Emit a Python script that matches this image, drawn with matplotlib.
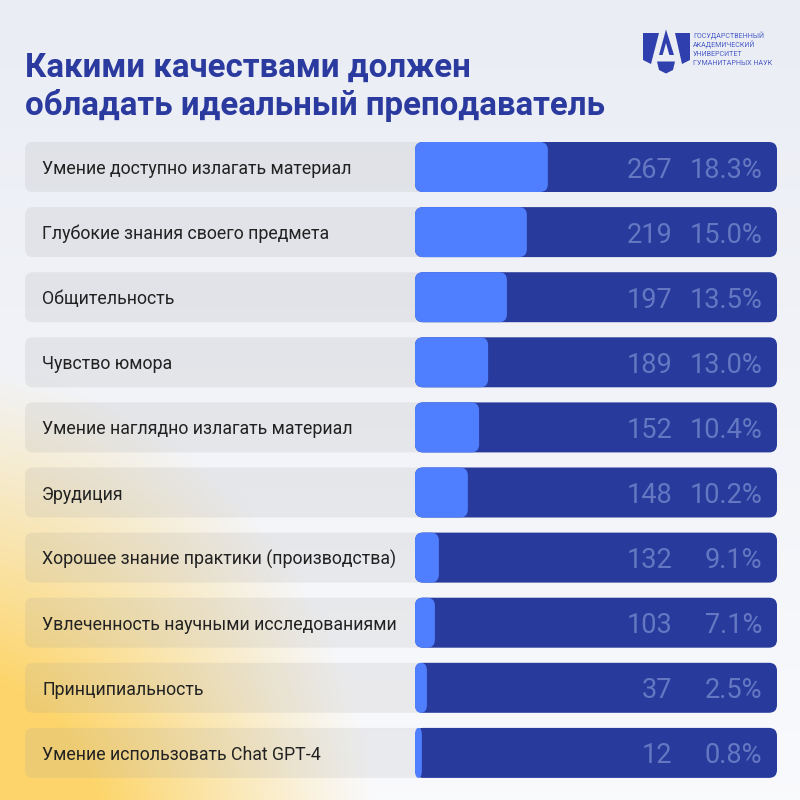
import numpy as np
import matplotlib
matplotlib.use("Agg")
import matplotlib.pyplot as plt
from matplotlib.patches import FancyBboxPatch, Polygon

plt.rcParams['font.family'] = ['Roboto', 'DejaVu Sans']

# ---------------- data ----------------
title_lines = ["Какими качествами должен", "обладать идеальный преподаватель"]
categories = [
    "Умение доступно излагать материал",
    "Глубокие знания своего предмета",
    "Общительность",
    "Чувство юмора",
    "Умение наглядно излагать материал",
    "Эрудиция",
    "Хорошее знание практики (производства)",
    "Увлеченность научными исследованиями",
    "Принципиальность",
    "Умение использовать Chat GPT-4",
]
counts = [267, 219, 197, 189, 152, 148, 132, 103, 37, 12]
percents = [18.3, 15.0, 13.5, 13.0, 10.4, 10.2, 9.1, 7.1, 2.5, 0.8]
# visible length of the light fill, in % of the track (as drawn in the original)
fill_pct = [36.7, 30.9, 25.4, 20.2, 17.7, 14.6, 6.6, 5.5, 3.3, 1.9]
logo_lines = ["ГОСУДАРСТВЕННЫЙ", "АКАДЕМИЧЕСКИЙ", "УНИВЕРСИТЕТ", "ГУМАНИТАРНЫХ НАУК"]

# ---------------- styles ----------------
TITLE_C = "#2B3A9E"
TRACK_C = "#283B9D"
FILL_C = "#4F7EFE"
NUM_C = "#6677C2"
LABEL_C = "#222222"

W = H = 800
fig = plt.figure(figsize=(8, 8), dpi=100)

# background with yellow glow bottom-left
bg = fig.add_axes([0, 0, 1, 1])
yy, xx = np.mgrid[0:H, 0:W]
top = np.array([0.918, 0.929, 0.957])
bot = np.array([0.978, 0.981, 0.992])
t = (yy / H)[..., None]
img = top * (1 - t) + bot * t
yellow = np.array([0.992, 0.835, 0.420])
d = np.sqrt(((xx + 60) / 440.0) ** 2 + ((yy - 860) / 500.0) ** 2)
g = np.clip(1 - d, 0, 1) ** 1.1
g = np.clip(g * 1.7, 0, 1)[..., None]
img = img * (1 - g) + yellow * g
bg.imshow(img, extent=[0, W, H, 0], aspect='auto', zorder=0)
bg.set_xlim(0, W)
bg.set_ylim(H, 0)
bg.axis('off')

# title
for line, base in zip(title_lines, [77, 115]):
    fig.text(25 / W, 1 - base / H, line, fontsize=23.8, fontweight='bold',
             color=TITLE_C, va='baseline', ha='left')

# logo
LOGO_C = "#2F3FAE"
for pts in [
    [(643, 33), (659, 33), (651, 64), (643, 60)],
    [(675, 33), (690, 33), (690, 60), (682, 64)],
    [(657, 61.5), (675, 61.5), (673, 70), (666, 73.5), (659, 70)],
]:
    bg.add_patch(Polygon(pts, closed=True, facecolor=LOGO_C, edgecolor='none', zorder=2))
bg.add_patch(Polygon([(666, 29.5), (659, 55), (674, 55)], closed=True, facecolor=LOGO_C,
                     edgecolor='none', zorder=2))
bg.add_patch(Polygon([(666, 43), (662.5, 55.5), (669.5, 55.5)], closed=True, facecolor="#ECEFF5",
                     edgecolor='none', zorder=3))
for i, line in enumerate(logo_lines):
    bg.text(693, 38.5 + 8.7 * i, line, fontsize=5.1, color="#4A5BC8", va='baseline',
            ha='left', zorder=3)

# rows geometry
n = len(categories)
row_px = 65.1
center0 = 167
top_px = center0 - row_px / 2
ax_h = n * row_px
ax_bottom = 1 - (top_px + ax_h) / H
bar_h = 50 / row_px

# label axes
lab = fig.add_axes([25 / W, ax_bottom, (425 - 25) / W, ax_h / H])
lab.set_xlim(0, 1)
lab.set_ylim(n - 0.5, -0.5)
lab.axis('off')
ypos = np.arange(n)
lab_bars = lab.barh(ypos, [1] * n, height=bar_h, left=0, color='none')
lab_aspect = (1 / row_px) / (1 / 400.0)
for rect, name in zip(lab_bars, categories):
    x0, y0, w, h = rect.get_x(), rect.get_y(), rect.get_width(), rect.get_height()
    rect.set_visible(False)
    lab.add_patch(FancyBboxPatch((x0, y0), w, h,
                                 boxstyle="round,pad=0,rounding_size=0.02",
                                 mutation_aspect=lab_aspect,
                                 facecolor="#A0A0A0", alpha=0.16, edgecolor='none'))
    lab.text(17 / 400, y0 + h / 2, name, fontsize=12.8, color=LABEL_C,
             va='center_baseline', ha='left')

# bar axes
track_w = 362
ax = fig.add_axes([415 / W, ax_bottom, track_w / W, ax_h / H])
ax.set_xlim(0, 100)
ax.set_ylim(n - 0.5, -0.5)
ax.axis('off')
aspect = (1 / row_px) / (100 / track_w)
rs = 8 * 100 / track_w

tracks = ax.barh(ypos, [100] * n, height=bar_h, color='none')
fills = ax.barh(ypos, fill_pct, height=bar_h, color='none')
for rect in tracks:
    rect.set_visible(False)
    ax.add_patch(FancyBboxPatch((rect.get_x(), rect.get_y()), rect.get_width(), rect.get_height(),
                                boxstyle=f"round,pad=0,rounding_size={rs}",
                                mutation_aspect=aspect, facecolor=TRACK_C, edgecolor='none',
                                zorder=2))
for rect in fills:
    rect.set_visible(False)
    w = rect.get_width()
    r = min(rs, w / 2)
    ax.add_patch(FancyBboxPatch((rect.get_x(), rect.get_y()), w, rect.get_height(),
                                boxstyle=f"round,pad=0,rounding_size={r}",
                                mutation_aspect=aspect * rs / r if r < rs else aspect,
                                facecolor=FILL_C, edgecolor='none', zorder=3))

tr = ax.get_yaxis_transform()
for y, c, p in zip(ypos, counts, percents):
    ax.text((672 - 415) / track_w, y, f"{c}", transform=tr, fontsize=19.5, color=NUM_C,
            ha='right', va='center_baseline', zorder=4)
    ax.text((762 - 415) / track_w, y, f"{p:.1f}%", transform=tr, fontsize=19.5, color=NUM_C,
            ha='right', va='center_baseline', zorder=4)

fig.savefig("out.png", dpi=100)
